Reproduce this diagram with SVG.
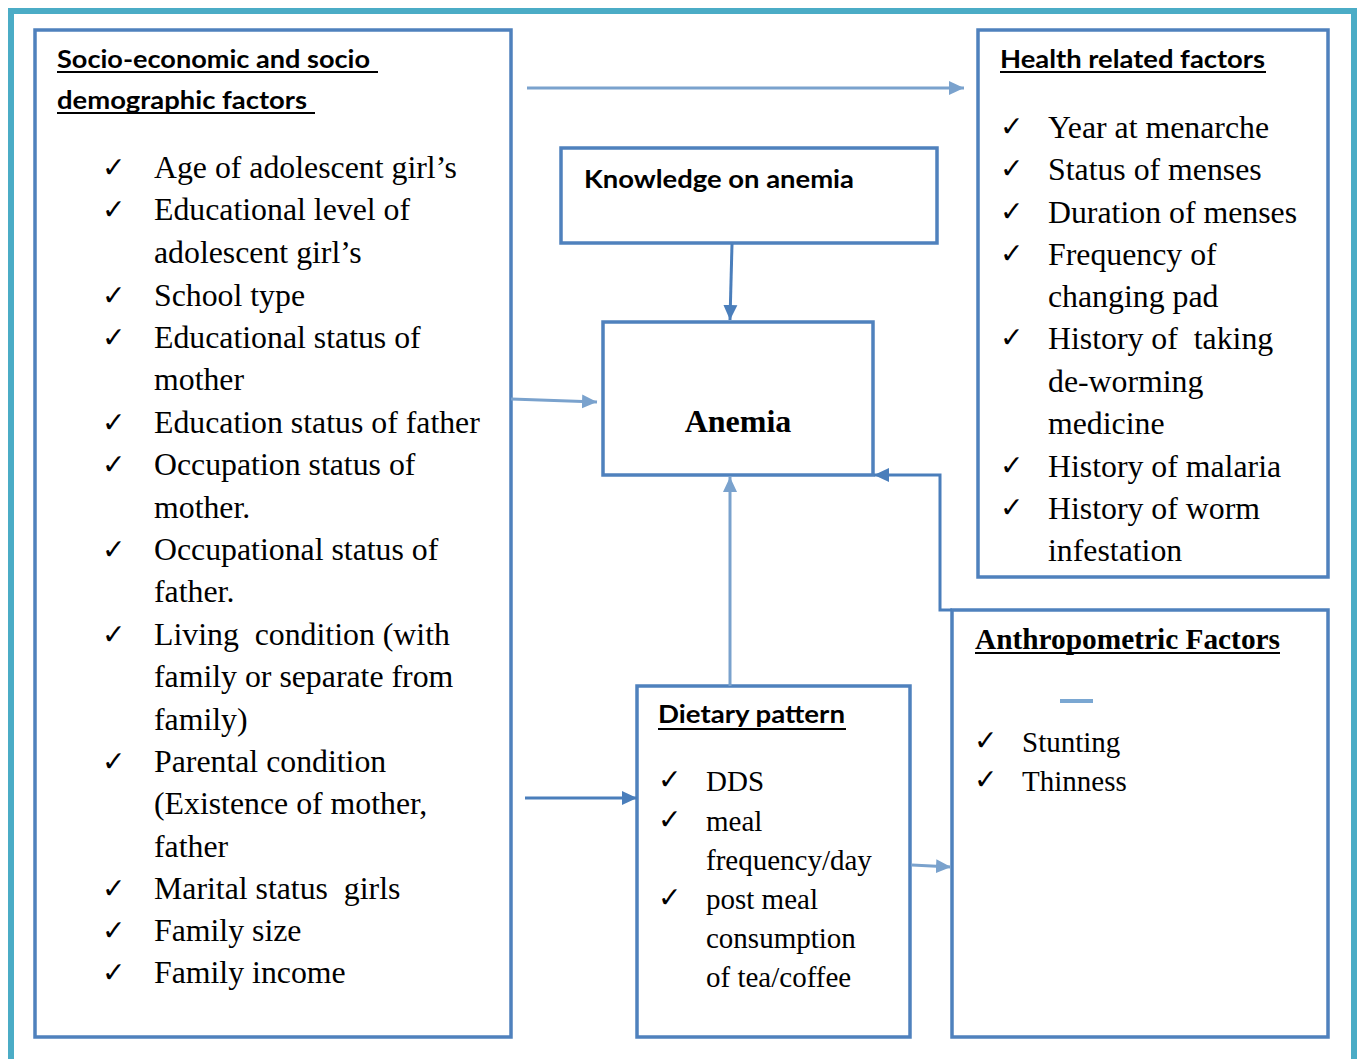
<svg xmlns="http://www.w3.org/2000/svg" width="1357" height="1059" viewBox="0 0 1357 1059">
<style>
.box{fill:#fff;stroke:#4f81bd;stroke-width:3.5}
.hd{font-family:Lato,"Liberation Sans",sans-serif;font-weight:bold;font-size:25px;fill:#000}
.ul{stroke:#000;stroke-width:2}
.t{font-family:"Liberation Serif","Times New Roman",serif;font-size:31.8px;fill:#000}
.t2{font-family:"Liberation Serif","Times New Roman",serif;font-size:29px;fill:#000}
.ck{font-family:"DejaVu Sans",sans-serif;font-size:28px;fill:#000}
.cl{fill:none;stroke:#7aa2cd;stroke-width:3}
.cd{fill:none;stroke:#4a7ebb;stroke-width:3}
</style>
<defs>
<marker id="al" markerUnits="userSpaceOnUse" markerWidth="16" markerHeight="16" viewBox="0 0 16 16" refX="15" refY="8" orient="auto">
<path d="M0,1 L15,8 L0,15 Z" fill="#7aa2cd"/>
</marker>
<marker id="ad" markerUnits="userSpaceOnUse" markerWidth="16" markerHeight="16" viewBox="0 0 16 16" refX="15" refY="8" orient="auto">
<path d="M0,1 L15,8 L0,15 Z" fill="#4a7ebb"/>
</marker>
</defs>
<rect x="11" y="11" width="1343" height="1100" fill="#fff" stroke="#4bacc6" stroke-width="6"/>

<g id="socio">
<rect class="box" x="35" y="30" width="476" height="1007"/>
<text class="hd" x="57" y="68" textLength="313" lengthAdjust="spacingAndGlyphs">Socio-economic and socio</text>
<line class="ul" x1="57" y1="72" x2="378" y2="72"/>
<text class="hd" x="57" y="109" textLength="250" lengthAdjust="spacingAndGlyphs">demographic factors</text>
<line class="ul" x1="57" y1="113" x2="315" y2="113"/>
<g class="ck">
<text x="102" y="177">✓</text><text x="102" y="219">✓</text><text x="102" y="305">✓</text><text x="102" y="347">✓</text>
<text x="102" y="432">✓</text><text x="102" y="474">✓</text><text x="102" y="559">✓</text><text x="102" y="644">✓</text>
<text x="102" y="771">✓</text><text x="102" y="898">✓</text><text x="102" y="940">✓</text><text x="102" y="982">✓</text>
</g>
<g class="t">
<text x="154" y="178">Age of adolescent girl’s</text>
<text x="154" y="220">Educational level of</text>
<text x="154" y="263">adolescent girl’s</text>
<text x="154" y="306">School type</text>
<text x="154" y="348">Educational status of</text>
<text x="154" y="390">mother</text>
<text x="154" y="433">Education status of father</text>
<text x="154" y="475">Occupation status of</text>
<text x="154" y="518">mother.</text>
<text x="154" y="560">Occupational status of</text>
<text x="154" y="602">father.</text>
<text x="154" y="645" xml:space="preserve">Living  condition (with</text>
<text x="154" y="687">family or separate from</text>
<text x="154" y="730">family)</text>
<text x="154" y="772">Parental condition</text>
<text x="154" y="814">(Existence of mother,</text>
<text x="154" y="857">father</text>
<text x="154" y="899" xml:space="preserve">Marital status  girls</text>
<text x="154" y="941">Family size</text>
<text x="154" y="983">Family income</text>
</g>
</g>

<g id="knowledge">
<rect class="box" x="561" y="148" width="376" height="95"/>
<text class="hd" x="584" y="188" textLength="270" lengthAdjust="spacingAndGlyphs">Knowledge on anemia</text>
</g>

<g id="anemia">
<rect class="box" x="603" y="322" width="270" height="153"/>
<text x="738" y="432" text-anchor="middle" font-family="'Liberation Serif','Times New Roman',serif" font-weight="bold" font-size="32">Anemia</text>
</g>

<g id="health">
<rect class="box" x="978" y="30" width="350" height="547"/>
<text class="hd" x="1000" y="68" textLength="265" lengthAdjust="spacingAndGlyphs">Health related factors</text>
<line class="ul" x1="1000" y1="72" x2="1266" y2="72"/>
<g class="ck">
<text x="1000" y="136">✓</text><text x="1000" y="178">✓</text><text x="1000" y="221">✓</text><text x="1000" y="263">✓</text>
<text x="1000" y="347">✓</text><text x="1000" y="475">✓</text><text x="1000" y="517">✓</text>
</g>
<g class="t">
<text x="1048" y="138">Year at menarche</text>
<text x="1048" y="180">Status of menses</text>
<text x="1048" y="223">Duration of menses</text>
<text x="1048" y="265">Frequency of</text>
<text x="1048" y="307">changing pad</text>
<text x="1048" y="349" xml:space="preserve">History of  taking</text>
<text x="1048" y="392">de-worming</text>
<text x="1048" y="434">medicine</text>
<text x="1048" y="477">History of malaria</text>
<text x="1048" y="519">History of worm</text>
<text x="1048" y="561">infestation</text>
</g>
</g>

<g id="dietary">
<rect class="box" x="637" y="686" width="273" height="351"/>
<text class="hd" x="658" y="723" textLength="187" lengthAdjust="spacingAndGlyphs">Dietary pattern</text>
<line class="ul" x1="658" y1="729" x2="846" y2="729"/>
<g class="ck">
<text x="658" y="789">✓</text><text x="658" y="829">✓</text><text x="658" y="907">✓</text>
</g>
<g class="t2">
<text x="706" y="791">DDS</text>
<text x="706" y="831">meal</text>
<text x="706" y="870">frequency/day</text>
<text x="706" y="909">post meal</text>
<text x="706" y="948">consumption</text>
<text x="706" y="987">of tea/coffee</text>
</g>
</g>

<g id="anthropometric">
<rect class="box" x="952" y="610" width="376" height="427"/>
<text x="975" y="649" font-family="'Liberation Serif','Times New Roman',serif" font-weight="bold" font-size="29" textLength="305" lengthAdjust="spacingAndGlyphs">Anthropometric Factors</text>
<line class="ul" x1="975" y1="653" x2="1280" y2="653"/>
<line x1="1060" y1="701" x2="1093" y2="701" stroke="#7aa7d2" stroke-width="4"/>
<g class="ck">
<text x="974" y="750">✓</text><text x="974" y="789">✓</text>
</g>
<g class="t2">
<text x="1022" y="752">Stunting</text>
<text x="1022" y="791">Thinness</text>
</g>
</g>

<g id="connectors">
<path class="cl" d="M527,88 L964,88" marker-end="url(#al)"/>
<path class="cd" d="M732,244 L730,320" marker-end="url(#ad)"/>
<path class="cl" d="M511,399 L597,402" marker-end="url(#al)"/>
<path class="cl" d="M730,686 L730,477" marker-end="url(#al)"/>
<path class="cd" d="M952,610 L940,610 L940,475 L874,475" marker-end="url(#ad)"/>
<path class="cd" d="M525,798 L637,798" marker-end="url(#ad)"/>
<path class="cl" d="M912,865 L951,867" marker-end="url(#al)"/>
</g>
</svg>
